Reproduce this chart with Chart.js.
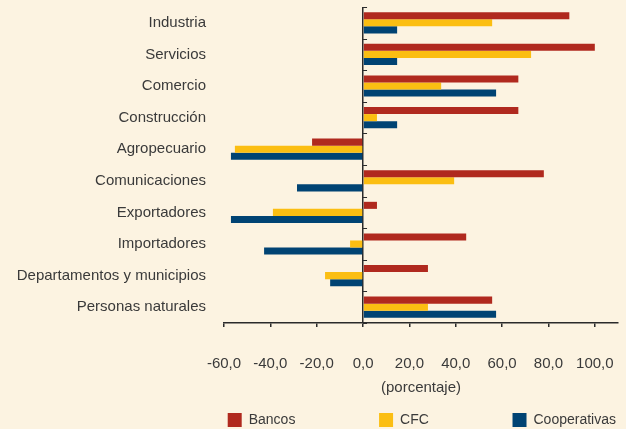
<!DOCTYPE html>
<html lang="es">
<head>
  <meta charset="UTF-8" />
  <title>Variación por sector</title>
  <script src="https://cdn.jsdelivr.net/npm/chart.js@4.4.0/dist/chart.umd.min.js"></script>
  <style>
    html, body { margin: 0; padding: 0; background: #fcf3e1; }
    #wrap { width: 626px; height: 429px; }
  </style>
</head>
<body>
  <div id="wrap"><canvas id="chart"></canvas></div>
  <script>
    const sectores = ["Industria", "Servicios", "Comercio", "Construcción", "Agropecuario",
      "Comunicaciones", "Exportadores", "Importadores", "Departamentos y municipios", "Personas naturales"];
    const bancos = [89, 100, 67, 67, -22, 78, 6, 44.5, 28, 55.7];
    const cfc = [55.7, 72.5, 33.7, 6, -55.3, 39.3, -38.9, -5.6, -16.4, 28];
    const cooperativas = [14.7, 14.7, 57.4, 14.7, -57, -28.5, -57, -42.7, -14.2, 57.4];
    const xTicks = [-60, -40, -20, 0, 20, 40, 60, 80, 100];

    const ink = "#3a3a3a";
    const axisInk = "#2a2a2a";
    Chart.defaults.font.family = "'Liberation Sans', sans-serif";
    Chart.defaults.font.size = 15;
    Chart.defaults.color = ink;

    // small marks on the zero line between categories
    const zeroTicks = {
      id: "zeroTicks",
      afterDatasetsDraw(chart) {
        const { ctx, scales: { x, y } } = chart;
        const x0 = x.getPixelForValue(0);
        ctx.save();
        ctx.strokeStyle = axisInk;
        ctx.lineWidth = 1;
        for (let i = 0; i <= sectores.length; i++) {
          const py = Math.round(y.getPixelForValue(i - 0.5)) + 0.5;
          ctx.beginPath();
          ctx.moveTo(x0, py);
          ctx.lineTo(x0 + 4, py);
          ctx.stroke();
        }
        ctx.restore();
      }
    };

    const gap = "\u2003\u2003\u2003\u2003\u2003   ";

    new Chart(document.getElementById("chart"), {
      type: "bar",
      data: {
        labels: sectores,
        datasets: [
          { label: "Bancos", data: bancos, backgroundColor: "#b0291e" },
          { label: "CFC", data: cfc, backgroundColor: "#fbbe12" },
          { label: "Cooperativas", data: cooperativas, backgroundColor: "#004373" }
        ]
      },
      options: {
        indexAxis: "y",
        responsive: true,
        maintainAspectRatio: false,
        animation: false,
        layout: { padding: { top: 7, right: 8, left: 0, bottom: 0 } },
        datasets: { bar: { categoryPercentage: 0.67, barPercentage: 1 } },
        scales: {
          x: {
            min: -60,
            max: 110,
            afterBuildTicks: axis => { axis.ticks = xTicks.map(v => ({ value: v })); },
            afterFit: s => { s.height = 88; s.paddingLeft = 0; s.paddingRight = 0; },
            ticks: {
              padding: 28,
              maxRotation: 0,
              callback: v => v.toFixed(1).replace(".", ",")
            },
            grid: {
              color: c => c.tick && c.tick.value === 0 ? axisInk : "transparent",
              tickColor: axisInk,
              tickLength: 4,
              lineWidth: 1.5
            },
            border: { color: axisInk, width: 1.5 },
            title: { display: true, text: "(porcentaje)", padding: { top: 2, bottom: 14 } }
          },
          y: {
            afterFit: s => { s.width = 224; s.paddingTop = 0; s.paddingBottom = 0; },
            ticks: { padding: 18 },
            grid: { display: false, drawTicks: false },
            border: { display: false }
          }
        },
        plugins: {
          legend: {
            position: "bottom",
            align: "end",
            maxHeight: 18,
            labels: {
              boxWidth: 14,
              boxHeight: 14,
              padding: 2,
              font: { size: 14 },
              generateLabels: chart => Chart.defaults.plugins.legend.labels.generateLabels(chart)
                .map((item, i, all) => ({ ...item, text: i < all.length - 1 ? item.text + gap : item.text }))
            }
          },
          tooltip: { enabled: false }
        }
      },
      plugins: [zeroTicks]
    });
  </script>
</body>
</html>
